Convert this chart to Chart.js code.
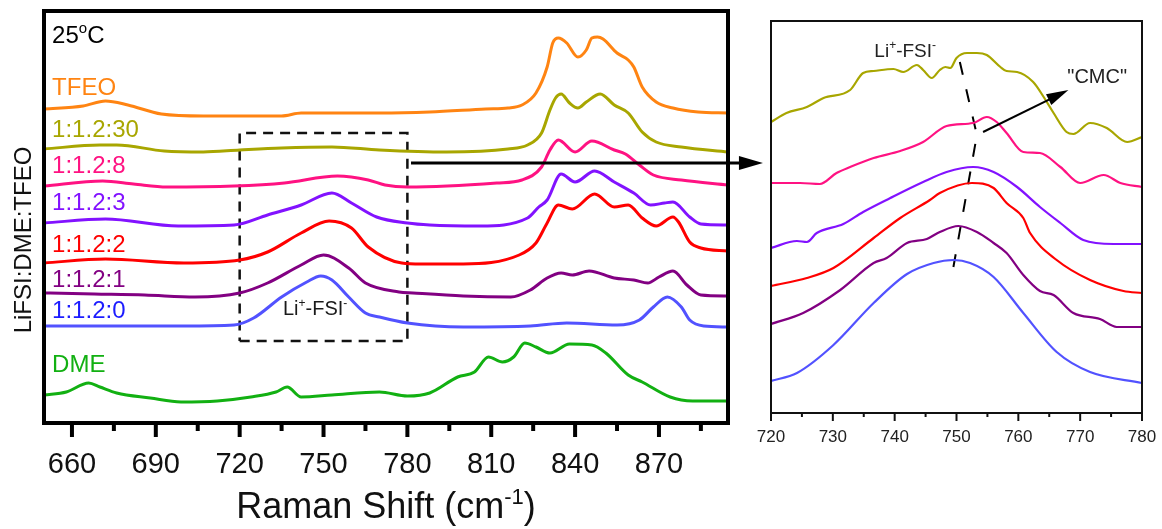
<!DOCTYPE html>
<html>
<head>
<meta charset="utf-8">
<script src="https://cdn.jsdelivr.net/npm/chart.js@4.4.1/dist/chart.umd.min.js"></script>
<style>
  body { margin: 0; background: #fff; }
  #wrap { position: relative; width: 1162px; height: 529px; overflow: hidden; }
  canvas { position: absolute; top: 0; }
  #left { left: 0; }
  #right { left: 740px; }
</style>
</head>
<body>
<div id="wrap">
  <canvas id="left" width="770" height="529"></canvas>
  <canvas id="right" width="422" height="529"></canvas>
</div>
<script>
const FONT = '"Liberation Sans", Arial, sans-serif';

// ---- left panel: full spectra, stacked (Raman shift cm-1 / intensity a.u.) ----
const tfeoShift = [650, 664, 672, 680, 692, 707, 735, 742, 770, 788, 808, 816, 821, 826, 830, 832, 834, 837, 841, 844, 846, 848, 850, 855, 859, 861, 864, 869, 875, 884, 894.7];
const tfeoInt   = [314, 317, 322, 318, 309, 307, 307, 310, 310, 311, 314, 315, 318, 330, 356, 380, 385, 380, 366, 373, 385, 386, 384, 370, 363, 356, 336, 321, 315, 311, 310];

const r30Shift = [650, 670, 676, 693, 707, 720, 735, 753, 770, 794, 816, 823, 828, 831, 833, 835, 838, 841, 844, 849, 854, 859, 864, 869, 878, 894.7];
const r30Int   = [274, 278, 278, 272, 271, 273, 275, 276, 273, 271, 274, 278, 290, 313, 325, 329, 320, 315, 321, 329, 318, 310, 291, 281, 276, 271];

const r8Shift = [650, 671, 682, 694, 718, 736, 755, 766, 772, 780, 812, 821, 828, 831, 834, 840, 846, 854, 858, 863, 868, 878, 894.7];
const r8Int   = [237, 242, 239, 236, 237, 240, 247, 243, 238, 236, 240, 243, 256, 273, 283, 271, 282, 273, 269, 258, 248, 243, 238];

const r3Shift = [650, 672, 698, 718, 730, 742, 753, 760, 769, 780, 788, 806, 823, 827, 830, 835, 840, 847, 854, 861, 867, 872, 875, 881, 885, 894.7];
const r3Int   = [200, 204, 197, 198, 208, 218, 230, 220, 206, 200, 198, 197, 205, 216, 223, 249, 241, 252, 241, 230, 218, 220, 221, 206, 199, 198];

const r2Shift = [650, 672, 700, 720, 730, 742, 752, 760, 766, 778, 785, 800, 820, 826, 830, 834, 839, 847, 854, 859, 864, 869, 875, 877, 881, 885, 894.7];
const r2Int   = [160, 164, 160, 163, 171, 190, 202, 195, 176, 160, 159, 159, 168, 180, 200, 218, 214, 229, 216, 218, 205, 197, 206, 201, 181, 175, 172];

const r1Shift = [650, 668, 686, 704, 720, 730, 742, 750, 759, 765, 777, 782, 800, 817, 824, 830, 835, 839, 845, 854, 861, 866, 870, 875, 880, 885, 894.7];
const r1Int   = [130, 129, 128, 126, 130, 140, 158, 168, 155, 140, 131, 130, 127, 126, 133, 145, 150, 148, 152, 145, 143, 140, 146, 152, 138, 128, 127];

const r0Shift = [650, 680, 700, 718, 725, 735, 744, 749, 753, 759, 765, 770, 780, 800, 824, 837, 855, 863, 868, 873, 878, 881, 886, 894.7];
const r0Int   = [97, 97, 97, 98, 105, 126, 141, 147, 143, 126, 110, 106, 100, 96, 97, 100, 98, 103, 116, 126, 116, 103, 97, 96];

const dmeShift = [650, 658, 666, 670, 676, 688, 699, 712, 724, 733, 737, 742, 753, 770, 780, 788, 798, 804, 809, 814, 818, 822, 826, 831, 838, 846, 851, 859, 864, 874, 882, 894.7];
const dmeInt   = [28, 31, 40, 36, 30, 25, 21, 22, 26, 31, 36, 26, 28, 31, 27, 30, 46, 51, 66, 61, 66, 80, 76, 70, 79, 78, 70, 48, 41, 26, 22, 22];

const leftNames  = ['TFEO', '1:1.2:30', '1:1.2:8', '1:1.2:3', '1:1.2:2', '1:1.2:1', '1:1.2:0', 'DME'];
const lineColors = ['#ff8412', '#a8a600', '#ff1282', '#8212ff', '#ff0000', '#820082', '#5252ff', '#12b012'];
const textColors = ['#ff8412', '#a8a600', '#ff1282', '#8212ff', '#ff0000', '#820082', '#1c1cff', '#12b012'];
const labelBase  = [328, 286, 250, 213, 171, 136, 105, 51];   // baseline of each name, in intensity units
const leftTicks  = [660, 690, 720, 750, 780, 810, 840, 870];

// dashed zoom box (720-780) and the arrow that points to the right panel
const boxShift = [720, 780, 780, 720, 720];
const boxInt   = [82, 82, 290, 290, 82];

// ---- right panel: zoom 720-780 ----
const z30Shift = [720, 722.5, 725.8, 728.5, 732.8, 734.9, 736.6, 739.8, 741.4, 743.6, 744.6, 746, 747.3, 748.2, 749, 750, 751.7, 753.3, 754.9, 757.1, 758.1, 759.8, 762.4, 764.1, 765.7, 767.8, 768.9, 771.6, 774.3, 777.6, 780];
const z30Int   = [291, 300, 306, 315, 323, 340, 342, 344, 341, 348, 343, 335, 343, 346, 345, 355, 360, 360, 358, 346, 342, 341, 331, 316, 300, 281, 279, 290, 285, 271, 276];

const z8Shift = [720, 724.7, 727.9, 730.6, 732.8, 736.6, 740.9, 744.6, 748.4, 752.7, 754.9, 756.5, 758.1, 760.8, 763.5, 766.8, 770, 773.8, 776.5, 780];
const z8Int   = [230, 230, 229, 240, 246, 255, 262, 271, 287, 290, 296, 291, 280, 261, 260, 246, 230, 238, 230, 226];

const z3Shift = [720, 724.2, 725.8, 727.4, 731.7, 734.9, 739.3, 744.6, 748.4, 752.7, 756, 759.8, 763.5, 766.8, 770.5, 775.4, 780];
const z3Int   = [165, 172, 171, 180, 189, 201, 215, 231, 241, 246, 241, 226, 206, 190, 173, 169, 169];

const z2Shift = [720, 725.8, 730.1, 736.6, 740.9, 745.7, 747.3, 752.5, 756, 758.1, 760.8, 761.9, 766.2, 771.6, 777, 780];
const z2Int   = [127, 135, 145, 175, 195, 213, 220, 230, 225, 210, 195, 180, 153, 133, 122, 120];

const z1Shift = [720, 725.2, 731.2, 736.6, 738.7, 742, 745.2, 747.3, 750.3, 753.3, 756, 758.1, 760.8, 763.5, 765.7, 768.9, 773.2, 775.9, 780];
const z1Int   = [89, 100, 123, 150, 155, 170, 174, 181, 187, 181, 170, 160, 138, 122, 118, 100, 94, 86, 86];

const z0Shift = [720, 724.2, 730.1, 736.6, 742, 746.3, 749.5, 752.2, 756, 760.8, 766.2, 771.6, 780];
const z0Int   = [32, 40, 68, 110, 139, 150, 153, 150, 136, 100, 61, 41, 30];

const rightTicks = [720, 730, 740, 750, 760, 770, 780];

// peak-position guide through the maxima
const guideShift = [749.5, 753.3, 750.2];
const guideInt   = [146, 278, 360];

function pts(xs, ys) {
  return xs.map((x, i) => ({ x, y: ys[i] }));
}

// text with superscripts: parts = [[text, isSup], ...]
function drawRich(ctx, parts, x, y, size, align) {
  const big = size + 'px ' + FONT;
  const small = Math.round(size * 0.62) + 'px ' + FONT;
  let w = 0;
  parts.forEach(([t, s]) => { ctx.font = s ? small : big; w += ctx.measureText(t).width; });
  let cx = align === 'center' ? x - w / 2 : x;
  ctx.textAlign = 'left';
  ctx.textBaseline = 'alphabetic';
  parts.forEach(([t, s]) => {
    ctx.font = s ? small : big;
    ctx.fillText(t, cx, s ? y - size * 0.4 : y);
    cx += ctx.measureText(t).width;
  });
}

function arrowHead(ctx, x0, y0, x1, y1, len, half) {
  const ang = Math.atan2(y1 - y0, x1 - x0);
  ctx.beginPath();
  ctx.moveTo(x1, y1);
  ctx.lineTo(x1 - len * Math.cos(ang) + half * Math.sin(ang), y1 - len * Math.sin(ang) - half * Math.cos(ang));
  ctx.lineTo(x1 - len * Math.cos(ang) - half * Math.sin(ang), y1 - len * Math.sin(ang) + half * Math.cos(ang));
  ctx.closePath();
  ctx.fill();
}

const leftDecor = {
  id: 'leftDecor',
  afterDraw(chart) {
    const { ctx, chartArea: a, scales: { x, y } } = chart;
    ctx.save();
    ctx.strokeStyle = '#000';
    ctx.fillStyle = '#000';
    ctx.lineWidth = 4;
    ctx.strokeRect(a.left, a.top, a.right - a.left, a.bottom - a.top);
    // ticks, long ones carry labels
    for (let v = 660; v <= 885; v += 15) {
      const px = x.getPixelForValue(v);
      const len = (v - 660) % 30 === 0 ? 14 : 8;
      ctx.beginPath();
      ctx.moveTo(px, a.bottom);
      ctx.lineTo(px, a.bottom + len);
      ctx.stroke();
    }
    // arrow to the zoom panel
    const ay = y.getPixelForValue(260);
    const ax0 = x.getPixelForValue(781.3);
    const ax1 = x.getPixelForValue(907.2);
    ctx.lineWidth = 3;
    ctx.beginPath();
    ctx.moveTo(ax0, ay);
    ctx.lineTo(ax1 - 15, ay);
    ctx.stroke();
    arrowHead(ctx, ax0, ay, ax1, ay, 24, 7);

    // series names
    const lx = x.getPixelForValue(652.9);
    leftNames.forEach((n, i) => {
      ctx.fillStyle = textColors[i];
      drawRich(ctx, [[n, 0]], lx, y.getPixelForValue(labelBase[i]), 24, 'left');
    });
    ctx.fillStyle = '#000';
    drawRich(ctx, [['25', 0], ['o', 1], ['C', 0]], lx, y.getPixelForValue(380), 24, 'left');
    ctx.fillStyle = '#1a1a1a';
    drawRich(ctx, [['Li', 0], ['+', 1], ['-FSI', 0], ['-', 1]], x.getPixelForValue(747), y.getPixelForValue(108), 20, 'center');

    // axis titles
    ctx.fillStyle = '#111';
    drawRich(ctx, [['Raman Shift (cm', 0], ['-1', 1], [')', 0]], (a.left + a.right) / 2, 518, 36, 'center');
    ctx.translate(24, 240);
    ctx.rotate(-Math.PI / 2);
    ctx.font = '24px ' + FONT;
    ctx.textAlign = 'center';
    ctx.textBaseline = 'middle';
    ctx.fillText('LiFSI:DME:TFEO', 0, 0);
    ctx.restore();
  }
};

const rightDecor = {
  id: 'rightDecor',
  afterDraw(chart) {
    const { ctx, chartArea: a, scales: { x, y } } = chart;
    ctx.save();
    ctx.strokeStyle = '#111';
    ctx.fillStyle = '#000';
    ctx.lineWidth = 2;
    ctx.strokeRect(a.left, a.top, a.right - a.left, a.bottom - a.top);
    for (let v = 720; v <= 780; v += 5) {
      const px = x.getPixelForValue(v);
      const len = v % 10 === 0 ? 8 : 4;
      ctx.beginPath();
      ctx.moveTo(px, a.bottom);
      ctx.lineTo(px, a.bottom + len);
      ctx.stroke();
    }
    // "CMC" arrow
    const x0 = x.getPixelForValue(754.3), y0 = y.getPixelForValue(281);
    const x1 = x.getPixelForValue(768.1), y1 = y.getPixelForValue(323);
    ctx.strokeStyle = '#000';
    ctx.beginPath();
    ctx.moveTo(x0, y0);
    ctx.lineTo(x1 - (x1 - x0) * 0.15, y1 - (y1 - y0) * 0.15);
    ctx.stroke();
    arrowHead(ctx, x0, y0, x1, y1, 22, 6);

    ctx.fillStyle = '#222';
    drawRich(ctx, [['"CMC"', 0]], x.getPixelForValue(772.75), y.getPixelForValue(330), 20, 'center');
    drawRich(ctx, [['Li', 0], ['+', 1], ['-FSI', 0], ['-', 1]], x.getPixelForValue(741.7), y.getPixelForValue(356), 19, 'center');
    ctx.restore();
  }
};

function curve(xs, ys, color, w) {
  return {
    data: pts(xs, ys), borderColor: color, borderWidth: w,
    pointRadius: 0, fill: false, cubicInterpolationMode: 'monotone'
  };
}

const leftData = [
  [tfeoShift, tfeoInt], [r30Shift, r30Int], [r8Shift, r8Int], [r3Shift, r3Int],
  [r2Shift, r2Int], [r1Shift, r1Int], [r0Shift, r0Int], [dmeShift, dmeInt]
];
const leftSets = leftData.map(([xs, ys], i) => curve(xs, ys, lineColors[i], 3));
leftSets.push({
  data: pts(boxShift, boxInt), borderColor: '#111', borderWidth: 2.5,
  borderDash: [10, 7], pointRadius: 0, tension: 0, fill: false
});

const rightData = [
  [z30Shift, z30Int], [z8Shift, z8Int], [z3Shift, z3Int],
  [z2Shift, z2Int], [z1Shift, z1Int], [z0Shift, z0Int]
];
const rightSets = rightData.map(([xs, ys], i) => curve(xs, ys, lineColors[i + 1], 2.2));
rightSets.push({
  data: pts(guideShift, guideInt), borderColor: '#000', borderWidth: 2,
  borderDash: [13, 15], pointRadius: 0, tension: 0, fill: false
});

new Chart(document.getElementById('left'), {
  type: 'line',
  data: { datasets: leftSets },
  options: {
    responsive: false,
    animation: false,
    layout: { padding: { left: 0, right: 42, top: 11, bottom: 0 } },
    plugins: { legend: { display: false }, tooltip: { enabled: false } },
    scales: {
      x: {
        type: 'linear', min: 650, max: 894.7,
        afterBuildTicks: s => { s.ticks = leftTicks.map(v => ({ value: v })); },
        afterFit: s => { s.height = 106; s.paddingLeft = 0; s.paddingRight = 0; },
        grid: { display: false }, border: { display: false },
        ticks: { color: '#111', padding: 17, maxRotation: 0, autoSkip: false, font: { family: FONT, size: 29 } }
      },
      y: {
        min: 0, max: 412,
        afterFit: s => { s.width = 44; },
        ticks: { display: false }, grid: { display: false }, border: { display: false }
      }
    }
  },
  plugins: [leftDecor]
});

new Chart(document.getElementById('right'), {
  type: 'line',
  data: { datasets: rightSets },
  options: {
    responsive: false,
    animation: false,
    layout: { padding: { left: 0, right: 20, top: 21, bottom: 0 } },
    plugins: { legend: { display: false }, tooltip: { enabled: false } },
    scales: {
      x: {
        type: 'linear', min: 720, max: 780,
        afterBuildTicks: s => { s.ticks = rightTicks.map(v => ({ value: v })); },
        afterFit: s => { s.height = 116; s.paddingLeft = 0; s.paddingRight = 0; },
        grid: { display: false }, border: { display: false },
        ticks: { color: '#222', padding: 6, maxRotation: 0, autoSkip: false, font: { family: FONT, size: 17 } }
      },
      y: {
        min: 0, max: 392,
        afterFit: s => { s.width = 31; },
        ticks: { display: false }, grid: { display: false }, border: { display: false }
      }
    }
  },
  plugins: [rightDecor]
});
</script>
</body>
</html>
